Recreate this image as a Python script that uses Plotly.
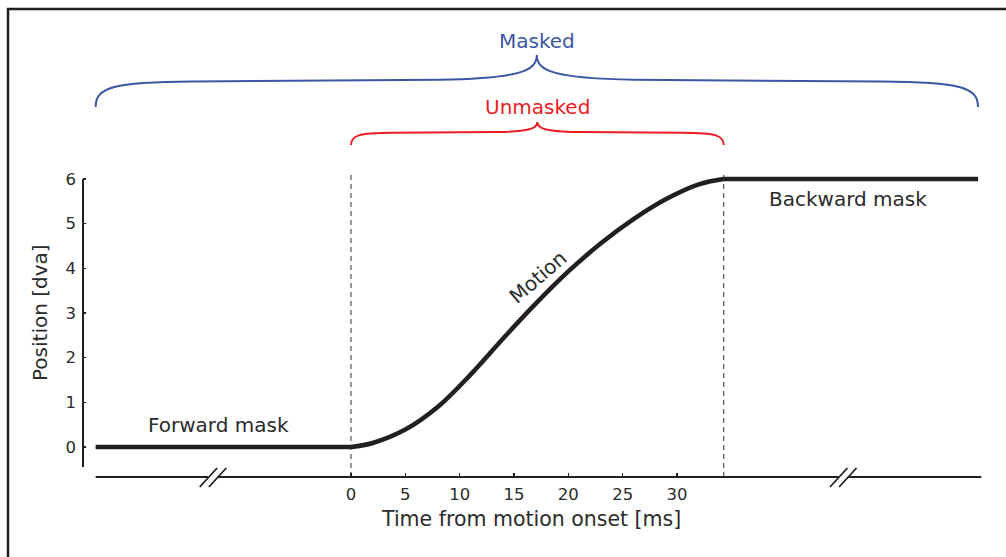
import plotly.graph_objects as go

# ---- data ----
forward_t = [-23.5, 0.0]
forward_pos = [0.0, 0.0]
motion_t = [0, 2, 5, 8, 11, 14, 17, 20, 23, 26, 29, 32, 34.3]
motion_pos = [0.0, 0.09, 0.39, 0.90, 1.62, 2.43, 3.21, 3.93, 4.56, 5.10, 5.55, 5.88, 6.0]
backward_t = [34.3, 57.7]
backward_pos = [6.0, 6.0]
x_ticks = [0, 5, 10, 15, 20, 25, 30]
y_ticks = [0, 1, 2, 3, 4, 5, 6]
axis_t_end = 58.0
break_centers = [-12.7, 45.3]
masked_span = [-23.5, 57.7]
unmasked_span = [0.0, 34.3]

FONT = "DejaVu Sans"
INK = "#231f20"
TXT = "#2b2b2b"
BLUE = "#3c56a5"
RED = "#ec1c24"

# plot-area geometry (px)
W, H = 1006, 557
L, R, T, B = 83, 0, 0, 80
PW, PH = W - L - R, H - T - B
px_per_ms = 326 / 30.0
px_per_unit = 268 / 6.0
x0_px = 351
y0_px = 447
xr = [(L - x0_px) / px_per_ms, (W - R - x0_px) / px_per_ms]
yr = [(y0_px - (H - B)) / px_per_unit, (y0_px - T) / px_per_unit]


def ypx_to_data(p):
    return (y0_px - p) / px_per_unit


def ypx_to_paper(p):
    return ((H - B) - p) / PH


def xpx_to_paper(p):
    return (p - L) / PW


def xpx_to_data(p):
    return (p - x0_px) / px_per_ms


fig = go.Figure()
line_style = dict(color=INK, width=4.5)
fig.add_trace(go.Scatter(x=forward_t, y=forward_pos, mode="lines", line=line_style,
                         hoverinfo="skip", showlegend=False))
fig.add_trace(go.Scatter(x=motion_t, y=motion_pos, mode="lines",
                         line=dict(color=INK, width=4.5, shape="spline", smoothing=1.0),
                         hoverinfo="skip", showlegend=False))
fig.add_trace(go.Scatter(x=backward_t, y=backward_pos, mode="lines", line=line_style,
                         hoverinfo="skip", showlegend=False))

shapes = []


def brace(xa, xb, yb, yf, yt, color):
    xm = (xa + xb) / 2
    h = xm - xa
    dy = yt - yf
    p = []
    p.append(f"M {xa},{yb}")
    p.append(f"C {xa},{yb + (yf - yb) * 0.8} {xa + 0.04 * h},{yf} {xa + 0.22 * h},{yf + 0.02 * dy}")
    p.append(f"L {xm - 0.22 * h},{yf + 0.08 * dy}")
    p.append(f"C {xm - 0.04 * h},{yf + 0.14 * dy} {xm},{yf + 0.4 * dy} {xm},{yt}")
    p.append(f"C {xm},{yf + 0.4 * dy} {xm + 0.04 * h},{yf + 0.14 * dy} {xm + 0.22 * h},{yf + 0.08 * dy}")
    p.append(f"L {xb - 0.22 * h},{yf + 0.02 * dy}")
    p.append(f"C {xb - 0.04 * h},{yf} {xb},{yb + (yf - yb) * 0.8} {xb},{yb}")
    return dict(type="path", xref="x", yref="y", path=" ".join(p),
                line=dict(color=color, width=2), layer="above")


shapes.append(brace(masked_span[0], masked_span[1], ypx_to_data(107), ypx_to_data(82),
                    ypx_to_data(55), BLUE))
shapes.append(brace(unmasked_span[0], unmasked_span[1], ypx_to_data(145), ypx_to_data(133),
                    ypx_to_data(122), RED))

# dashed boundaries
for xv in unmasked_span:
    shapes.append(dict(type="line", xref="x", yref="paper", x0=xv, x1=xv,
                       y0=ypx_to_paper(477), y1=ypx_to_paper(172),
                       line=dict(color="#333333", width=1, dash="5px,4px"), layer="below"))

# y axis line
shapes.append(dict(type="line", xref="paper", yref="y", x0=0, x1=0,
                   y0=ypx_to_data(467), y1=6, line=dict(color=INK, width=2)))

# x axis line, broken at the break marks
gap = 0.42
segs = [masked_span[0], break_centers[0] - gap, break_centers[0] + gap,
        break_centers[1] - gap, break_centers[1] + gap, axis_t_end]
for i in range(0, len(segs), 2):
    shapes.append(dict(type="line", xref="x", yref="paper", x0=segs[i], x1=segs[i + 1],
                       y0=0, y1=0, line=dict(color=INK, width=2)))
# break slashes
for c in break_centers:
    for off in (-0.42, 0.42):
        xc = c + off
        dx = 8.7 / px_per_ms
        shapes.append(dict(type="line", xref="x", yref="paper",
                           x0=xc - dx, x1=xc + dx,
                           y0=ypx_to_paper(487), y1=ypx_to_paper(468),
                           line=dict(color=INK, width=1.8)))

# figure frame (top and left)
shapes.append(dict(type="path", xref="paper", yref="paper",
                   path=f"M {xpx_to_paper(8)},{ypx_to_paper(560)} L {xpx_to_paper(8)},{ypx_to_paper(9)} L {xpx_to_paper(1010)},{ypx_to_paper(9)}",
                   line=dict(color=INK, width=2.5)))

C = dict(showarrow=False, xanchor="center", yanchor="middle")
annotations = [
    dict(text="Masked", x=sum(masked_span) / 2, y=ypx_to_data(41), xref="x", yref="y",
         font=dict(family=FONT, size=20, color=BLUE), **C),
    dict(text="Unmasked", x=sum(unmasked_span) / 2, y=ypx_to_data(107), xref="x", yref="y",
         font=dict(family=FONT, size=20, color=RED), **C),
    dict(text="Forward mask", x=xpx_to_data(218), y=ypx_to_data(425), xref="x", yref="y",
         font=dict(family=FONT, size=20, color=TXT), **C),
    dict(text="Backward mask", x=xpx_to_data(848), y=ypx_to_data(199), xref="x", yref="y",
         font=dict(family=FONT, size=20, color=TXT), **C),
    dict(text="Motion", x=xpx_to_data(538), y=ypx_to_data(277), xref="x", yref="y",
         textangle=-41, font=dict(family=FONT, size=20, color=TXT), **C),
    dict(text="Position [dva]", x=xpx_to_paper(40), y=3, xref="paper", yref="y",
         textangle=-90, font=dict(family=FONT, size=20, color=TXT), **C),
    dict(text="Time from motion onset [ms]", x=xpx_to_data(531), y=ypx_to_paper(519),
         xref="x", yref="paper", font=dict(family=FONT, size=20.5, color=TXT), **C),
]

fig.update_layout(
    width=W, height=H, autosize=False,
    margin=dict(l=L, r=R, t=T, b=B, pad=0),
    paper_bgcolor="white", plot_bgcolor="white",
    shapes=shapes, annotations=annotations,
    font=dict(family=FONT, color=TXT),
    xaxis=dict(range=xr, tickmode="array", tickvals=x_ticks, ticktext=[str(v) for v in x_ticks],
               ticks="inside", ticklen=4, tickwidth=1.5, tickcolor=INK, ticklabelstandoff=5,
               showline=False, showgrid=False, zeroline=False, automargin=False,
               tickfont=dict(family=FONT, size=16.5, color=TXT)),
    yaxis=dict(range=yr, tickmode="array", tickvals=y_ticks, ticktext=[str(v) for v in y_ticks],
               ticks="inside", ticklen=3, tickwidth=1.5, tickcolor=INK, ticklabelstandoff=6,
               showline=False, showgrid=False, zeroline=False, automargin=False,
               tickfont=dict(family=FONT, size=16.5, color=TXT)),
)

fig.write_html("out.html", config={"displayModeBar": False, "staticPlot": True},
               post_script="document.body.style.margin='0';document.body.style.overflow='hidden';")
